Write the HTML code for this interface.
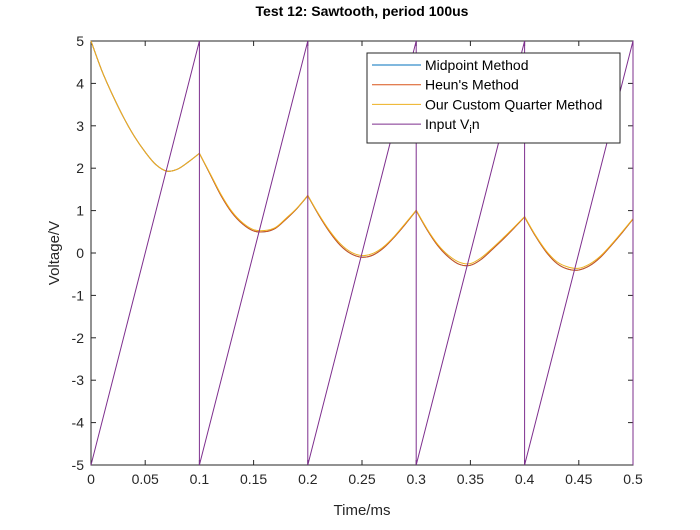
<!DOCTYPE html>
<html><head><meta charset="utf-8"><style>
body{margin:0;background:#fff;}
svg text{font-family:"Liberation Sans",Arial,sans-serif;}
</style></head><body>
<svg id="chart" width="700" height="525" xmlns="http://www.w3.org/2000/svg">
<rect width="700" height="525" fill="#fff"/>
<g id="plot"></g>
</svg>
<script>
const times=[0,0.01,0.02,0.03,0.04,0.05,0.06,0.07,0.08,0.09,0.1,0.11,0.12,0.13,0.14,0.15,0.16,0.17,0.18,0.19,0.2,0.21,0.22,0.23,0.24,0.25,0.26,0.27,0.28,0.29,0.3,0.31,0.32,0.33,0.34,0.35,0.36,0.37,0.38,0.39,0.4,0.41,0.42,0.43,0.44,0.45,0.46,0.47,0.48,0.49,0.5];
const midpoint=[5,4.3,3.72,3.2,2.75,2.38,2.08,1.93,1.98,2.15,2.35,1.85,1.35,0.95,0.68,0.52,0.5,0.58,0.8,1.05,1.35,0.9,0.5,0.18,-0.02,-0.1,-0.05,0.12,0.38,0.68,1.0,0.55,0.17,-0.1,-0.27,-0.29,-0.15,0.08,0.32,0.58,0.85,0.4,0.02,-0.25,-0.38,-0.4,-0.3,-0.1,0.18,0.48,0.8];
const heun=[5,4.3,3.72,3.2,2.75,2.38,2.08,1.93,1.98,2.15,2.35,1.85,1.35,0.95,0.68,0.52,0.5,0.58,0.8,1.05,1.35,0.9,0.5,0.18,-0.02,-0.1,-0.05,0.12,0.38,0.68,1.0,0.55,0.17,-0.1,-0.27,-0.29,-0.15,0.08,0.32,0.58,0.85,0.4,0.02,-0.25,-0.38,-0.4,-0.3,-0.1,0.18,0.48,0.8];
const custom=[5,4.3,3.72,3.2,2.75,2.38,2.08,1.93,1.98,2.15,2.35,1.87,1.38,0.98,0.71,0.55,0.53,0.6,0.82,1.06,1.36,0.92,0.53,0.22,0.02,-0.06,-0.01,0.15,0.4,0.7,1.01,0.57,0.2,-0.06,-0.22,-0.25,-0.11,0.11,0.35,0.6,0.86,0.42,0.05,-0.21,-0.33,-0.36,-0.26,-0.07,0.2,0.5,0.81];
const inTimes=[0,0.1,0.1,0.2,0.2,0.3,0.3,0.4,0.4,0.5,0.5];
const inVals=[-5,5,-5,5,-5,5,-5,5,-5,5,-5];
const xTicks=[0,0.05,0.1,0.15,0.2,0.25,0.3,0.35,0.4,0.45,0.5];
const xTickLabels=["0","0.05","0.1","0.15","0.2","0.25","0.3","0.35","0.4","0.45","0.5"];
const yTicks=[-5,-4,-3,-2,-1,0,1,2,3,4,5];
const yTickLabels=["-5","-4","-3","-2","-1","0","1","2","3","4","5"];
const period=0.1;

const L=91,R=633,T=41,B=465;
const sx=v=>L+(v-0)/(0.5)*(R-L);
const sy=v=>B-(v+5)/10*(B-T);
const NS="http://www.w3.org/2000/svg";
const g=document.getElementById('plot');
function el(tag,attrs,parent){const e=document.createElementNS(NS,tag);for(const k in attrs)e.setAttribute(k,attrs[k]);(parent||g).appendChild(e);return e;}

const box=el('rect',{x:L,y:T,width:R-L,height:B-T,fill:'#fff',stroke:'#262626','stroke-width':1});



xTicks.forEach((t,i)=>{
  const x=sx(t);
  el('line',{x1:x,x2:x,y1:B,y2:B-5,stroke:'#262626'});
  el('line',{x1:x,x2:x,y1:T,y2:T+5,stroke:'#262626'});
  const tx=el('text',{x:x,y:B+19,'text-anchor':'middle','font-size':14,fill:'#262626'});
  tx.textContent=xTickLabels[i];
  
  
});
yTicks.forEach((t,i)=>{
  const y=sy(t);
  el('line',{x1:L,x2:L+5,y1:y,y2:y,stroke:'#262626'});
  el('line',{x1:R,x2:R-5,y1:y,y2:y,stroke:'#262626'});
  const tx=el('text',{x:L-7,y:y+5,'text-anchor':'end','font-size':14,fill:'#262626'});
  tx.textContent=yTickLabels[i];
  
  
});

function smoothPath(xs,ys){
  // split into segments at period boundaries (cusps), Catmull-Rom within each
  const pts=xs.map((x,i)=>[sx(x),sy(ys[i]),x]);
  let segs=[],cur=[pts[0]];
  for(let i=1;i<pts.length;i++){
    cur.push(pts[i]);
    const r=pts[i][2]/period;
    if(Math.abs(r-Math.round(r))<1e-6 && i<pts.length-1){segs.push(cur);cur=[pts[i]];}
  }
  segs.push(cur);
  let d='M'+pts[0][0].toFixed(2)+','+pts[0][1].toFixed(2);
  segs.forEach(s=>{
    for(let i=0;i<s.length-1;i++){
      const p0=s[Math.max(0,i-1)],p1=s[i],p2=s[i+1],p3=s[Math.min(s.length-1,i+2)];
      const c1x=p1[0]+(p2[0]-p0[0])/6,c1y=p1[1]+(p2[1]-p0[1])/6;
      const c2x=p2[0]-(p3[0]-p1[0])/6,c2y=p2[1]-(p3[1]-p1[1])/6;
      d+='C'+c1x.toFixed(2)+','+c1y.toFixed(2)+' '+c2x.toFixed(2)+','+c2y.toFixed(2)+' '+p2[0].toFixed(2)+','+p2[1].toFixed(2);
    }
  });
  return d;
}
function series(xs,ys,color,name,smooth){
  const d=smooth?smoothPath(xs,ys):xs.map((x,i)=>(i?'L':'M')+sx(x).toFixed(2)+','+sy(ys[i]).toFixed(2)).join('');
  const p=el('path',{d:d,fill:'none',stroke:color,'stroke-width':1});
  
  
}
series(times,midpoint,'#0072BD','midpoint-line',true);
series(times,heun,'#D95319','heun-line',true);
series(times,custom,'#EDB120','custom-quarter-line',true);
series(inTimes,inVals,'#7E2F8E','input-vin-line',false);

const ti=el('text',{x:362,y:16,'text-anchor':'middle','font-size':14,'font-weight':'bold',fill:'#000'});
ti.textContent='Test 12: Sawtooth, period 100us';


const xt=el('text',{x:362,y:515,'text-anchor':'middle','font-size':15,fill:'#262626'});
xt.textContent='Time/ms';


const yt=el('text',{x:0,y:0,'text-anchor':'middle','font-size':15,fill:'#262626',transform:'translate(59,253) rotate(-90)'});
yt.textContent='Voltage/V';



const lg=el('g',{});


el('rect',{x:367,y:53,width:253,height:90,fill:'#fff',stroke:'#262626','stroke-width':1},lg);
const entries=[['Midpoint Method','#0072BD'],["Heun's Method",'#D95319'],['Our Custom Quarter Method','#EDB120'],['Input V','#7E2F8E']];
entries.forEach((e,i)=>{
  const y=65+i*19.7;
  const ln=el('line',{x1:372,x2:421,y1:y,y2:y,stroke:e[1]},lg);
  
  
  const tx=el('text',{x:425,y:y+5,'font-size':14,fill:'#000'},lg);
  
  
  tx.textContent=e[0];
  if(i===3){
    const s=el('tspan',{'font-size':11,dy:4},tx);s.textContent='i';
    const s2=el('tspan',{dy:-4},tx);s2.textContent='n';
  }
});
</script>
</body></html>
